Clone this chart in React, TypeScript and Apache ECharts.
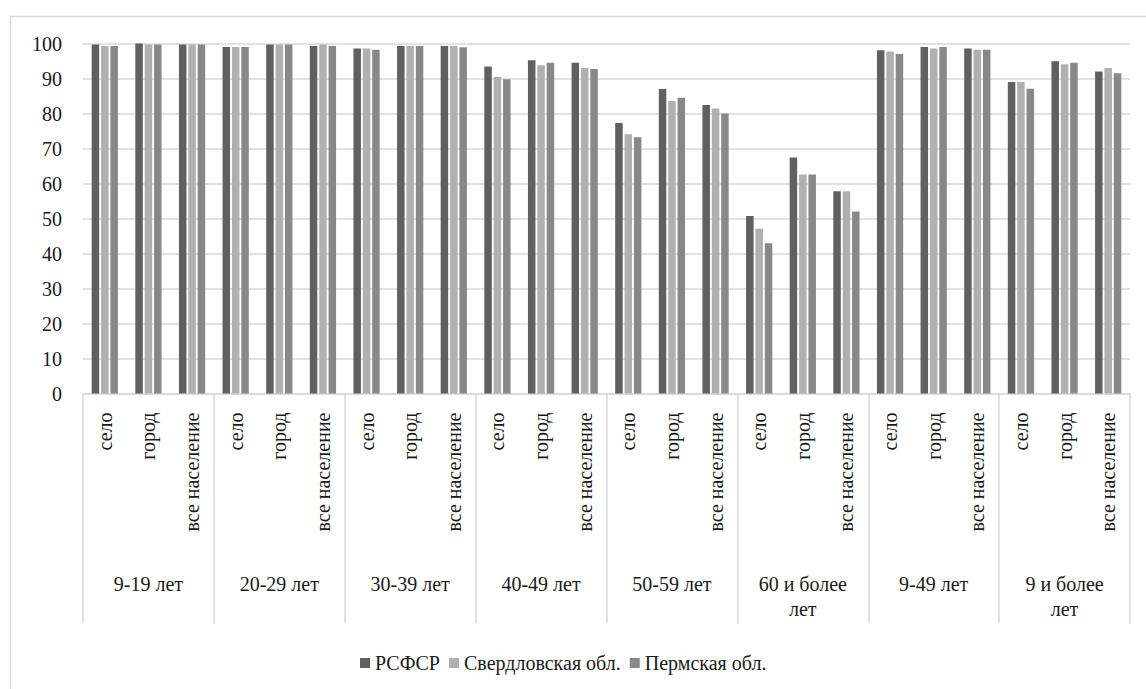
import React, { useEffect, useRef } from "react";
import * as echarts from "echarts";

const groups = ["9-19 лет", "20-29 лет", "30-39 лет", "40-49 лет", "50-59 лет", "60 и более\nлет", "9-49 лет", "9 и более\nлет"];
const subCats = ["село", "город", "все население"];
const categories: string[] = groups.flatMap(() => subCats);

const rsfsr = [
  99.7, 100, 99.7,
  99.0, 99.7, 99.3,
  98.6, 99.3, 99.3,
  93.4, 95.2, 94.5,
  77.3, 87.0, 82.4,
  50.7, 67.4, 57.8,
  98.1, 99.0, 98.6,
  89.0, 94.9, 92.0,
];
const sverdl = [
  99.3, 99.7, 99.7,
  99.0, 99.7, 99.7,
  98.6, 99.3, 99.3,
  90.4, 93.8, 93.0,
  74.1, 83.6, 81.4,
  47.1, 62.6, 57.8,
  97.7, 98.6, 98.2,
  89.0, 94.1, 93.0,
];
const perm = [
  99.3, 99.7, 99.7,
  99.0, 99.7, 99.3,
  98.2, 99.3, 98.95,
  89.8, 94.5, 92.7,
  73.2, 84.5, 80.0,
  42.9, 62.6, 52.0,
  97.0, 99.0, 98.2,
  87.1, 94.5, 91.5,
];

const seriesNames = ["РСФСР", "Свердловская обл.", "Пермская обл."];
const seriesColors = ["#606060", "#b0b0b0", "#888888"];
const seriesData = [rsfsr, sverdl, perm];

const FONT = "'Liberation Serif', 'Times New Roman', serif";
const TEXT = "#1a1a1a";
const LINE = "#d9d9d9";

export default function App() {
  const ref = useRef<HTMLDivElement>(null);
  useEffect(() => {
    if (!ref.current) return;
    const chart = echarts.init(ref.current, null, { renderer: "svg" });
    const txt = { fontFamily: FONT, fontSize: 20, color: TEXT };
    chart.setOption({
      animation: false,
      backgroundColor: "#ffffff",
      textStyle: { fontFamily: FONT, color: TEXT },
      graphic: [
        {
          type: "rect",
          left: 8,
          top: 14,
          shape: { width: 1200, height: 700 },
          style: { fill: "none", stroke: LINE, lineWidth: 1.5 },
          silent: true,
        },
      ],
      legend: {
        data: seriesNames,
        left: 355,
        top: 648,
        itemWidth: 10,
        itemHeight: 10,
        itemGap: 9,
        icon: "rect",
        textStyle: { ...txt },
      },
      grid: { left: 83, right: 16, top: 43.5, bottom: 295.5, containLabel: false },
      xAxis: [
        {
          type: "category",
          data: categories,
          position: "bottom",
          axisLine: { show: true, lineStyle: { color: LINE, width: 1.5 } },
          axisTick: { show: false },
          axisLabel: { interval: 0, rotate: 90, margin: 19, ...txt },
          splitLine: { show: false },
        },
        {
          type: "category",
          data: groups,
          position: "bottom",
          offset: 0,
          axisLine: { show: false },
          axisTick: {
            show: true,
            length: 230,
            alignWithLabel: false,
            interval: 0,
            lineStyle: { color: LINE, width: 1.5 },
          },
          axisLabel: { interval: 0, margin: 178, lineHeight: 25, ...txt },
          splitLine: { show: false },
        },
      ],
      yAxis: {
        type: "value",
        min: 0,
        max: 100,
        interval: 10,
        axisLine: { show: false },
        axisTick: { show: false },
        axisLabel: { margin: 21, ...txt },
        splitLine: { lineStyle: { color: LINE, width: 1.5 } },
      },
      series: seriesNames.map((name, i) => ({
        name,
        type: "bar",
        xAxisIndex: 0,
        data: seriesData[i],
        barWidth: 7.5,
        barGap: "25%",
        itemStyle: { color: seriesColors[i] },
      })),
    });
    return () => chart.dispose();
  }, []);
  return <div ref={ref} style={{ position: "fixed", left: 0, top: 0, width: 1146, height: 689 }} />;
}
